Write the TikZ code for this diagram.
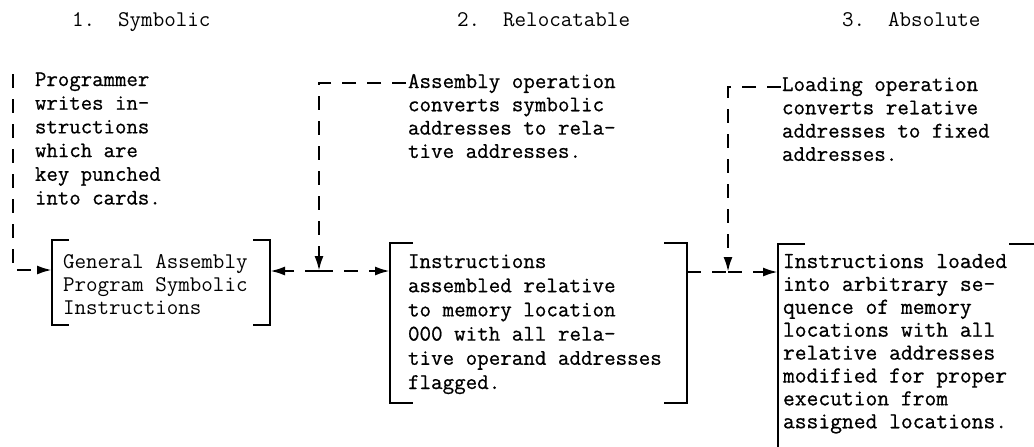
\documentclass[tikz,border=0pt]{standalone}
\usepackage{fontspec}
\newfontfamily\typew{Latin Modern Mono}[FakeBold=0.7]
\usetikzlibrary{arrows.meta,fit}
\frenchspacing
\newcommand\drawbrackets[2]{%
  \draw[brk] ([xshift=#2]#1.north west) -- (#1.north west) -- (#1.south west) -- ([xshift=#2]#1.south west);
  \draw[brk] ([xshift=-#2]#1.north east) -- (#1.north east) -- (#1.south east) -- ([xshift=-#2]#1.south east);}
\begin{document}
\begin{tikzpicture}[x=1pt,y=-1pt,
  brk/.style={line width=2.4pt, line cap=butt, line join=miter},
  dline/.style={line width=2.4pt, dash pattern=on 14pt off 11pt},
  flow/.style={dline, -{Latex[length=15pt,width=9pt]}},
  bframe/.style={draw=none, inner sep=0pt, outer sep=0pt},
  txt/.style={inner sep=0pt, outer sep=0pt, anchor=base west},
  ttl/.style={txt, font=\ttfamily\fontsize{22.4}{24}\selectfont}]
\useasboundingbox (0,0) rectangle (1034,447);
% titles
\node[ttl] (h1) at (72,27) {1.\ \ Symbolic};
\node[ttl] (h2) at (457,27) {2.\ \ Relocatable};
\node[ttl] (h3) at (842,27) {3.\ \ Absolute};
% upper texts
\node[txt] (A) at (35,86) {\typew\fontsize{22.2}{23.7}\selectfont
  \begin{tabular}[t]{@{}l@{}}Programmer\\writes in-\\structions\\which are\\key punched\\into cards.\end{tabular}};
\node[txt] (B) at (408,88) {\typew\fontsize{22.4}{23.3}\selectfont
  \begin{tabular}[t]{@{}l@{}}Assembly operation\\converts symbolic\\addresses to rela-\\tive addresses.\end{tabular}};
\node[txt] (C) at (782,91) {\typew\fontsize{22.4}{23.3}\selectfont
  \begin{tabular}[t]{@{}l@{}}Loading operation\\converts relative\\addresses to fixed\\addresses.\end{tabular}};
% boxes
\node[bframe, fit={(52,240) (270,325)}] (box1) {};
\node[bframe, fit={(390,243) (687,403)}] (box2) {};
\node[bframe, fit={(778,244) (1036,470)}] (box3) {};
\drawbrackets{box1}{17pt}
\drawbrackets{box2}{23pt}
\drawbrackets{box3}{27pt}
\node[txt] (t1) at (63,268) {\ttfamily\fontsize{22.4}{23}\selectfont
  \begin{tabular}[t]{@{}l@{}}General Assembly\\Program Symbolic\\Instructions\end{tabular}};
\node[txt] (t2) at (408,268) {\typew\fontsize{22.4}{24.2}\selectfont
  \begin{tabular}[t]{@{}l@{}}Instructions\\assembled relative\\to memory location\\000 with all rela-\\tive operand addresses\\flagged.\end{tabular}};
\node[txt] (t3) at (783,268) {\typew\fontsize{22.9}{22.9}\selectfont
  \begin{tabular}[t]{@{}l@{}}Instructions loaded\\into arbitrary se-\\quence of memory\\locations with all\\relative addresses\\modified for proper\\execution from\\assigned locations.\end{tabular}};
% connectors
\coordinate (a1) at (13,74);
\coordinate (L1) at (0,270);
\coordinate (J1) at (319,271);
\coordinate (J2) at (728,272);
\draw[flow] (a1) |- (box1.west |- L1);
\draw[flow] (J1) -- (box1.east |- J1);
\draw[flow] (J1) -- (box2.west |- J1);
\draw[flow] ([xshift=-2pt,yshift=5pt]B.base west) -| (J1);
\draw[dline] (box2.east |- J2) -- (J2);
\draw[flow] (J2) -- (box3.west |- J2);
\draw[flow] ([xshift=-1pt,yshift=4pt]C.base west) -| (J2);
\end{tikzpicture}
\end{document}
